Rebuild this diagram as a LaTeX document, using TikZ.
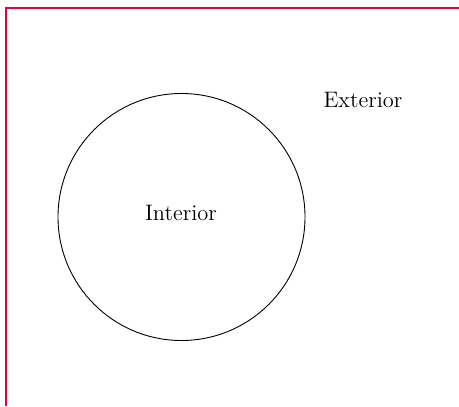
\documentclass[tikz,border=0pt]{standalone}
\definecolor{framecol}{RGB}{215,10,60}
\tikzset{
  lbl/.style={inner sep=0pt, font=\fontsize{11.2}{13}\selectfont},
  region/.style={circle, draw=black, line width=0.45pt, minimum size=123.5pt, inner sep=0pt},
  framepen/.style={draw=framecol, line width=1pt, line join=miter}
}
\begin{document}
\begin{tikzpicture}[x=0.5pt,y=-0.5pt]
\useasboundingbox (0,0) rectangle (459,406);
\coordinate (ftr) at (459,8);
\coordinate (ftl) at (6,8);
\coordinate (fbl) at (6,406);
\draw[framepen] (ftr) -- (ftl) -- (fbl);
\node[region] (circ) at (181.5,217) {};
\node[lbl] (int) at (181,213) {Interior};
\node[lbl] (ext) at (363,100) {Exterior};
\end{tikzpicture}
\end{document}
